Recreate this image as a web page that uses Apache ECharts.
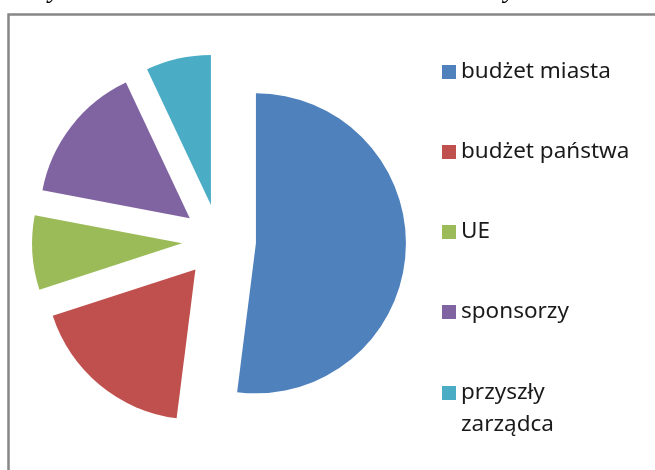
<!DOCTYPE html>
<html>
<head>
<meta charset="utf-8">
<script src="https://cdn.jsdelivr.net/npm/echarts@6/dist/echarts.min.js"></script>
<style>
  html, body { margin: 0; padding: 0; background: #fff; }
  #chart { width: 655px; height: 470px; }
</style>
</head>
<body>
<div id="chart"></div>
<script>
// źródła finansowania (udział w %)
const categories = ['budżet miasta', 'budżet państwa', 'UE', 'sponsorzy', 'przyszły zarządca']
const shares = [52, 18, 8, 15, 7]
const colors = ['#4F81BD', '#C0504D', '#9BBB59', '#8064A2', '#4BACC6']
const captionText = 'Wykres 1. Udział źródeł w kosztach budowy stadionu'

const chart = echarts.init(document.getElementById('chart'))

const pieData = categories.map((name, i) => ({
  name,
  value: shares[i],
  selected: true,
  itemStyle: { color: colors[i] }
}))

const legendBase = {
  orient: 'vertical',
  left: 442,
  padding: 0,
  icon: 'rect',
  itemWidth: 14,
  itemHeight: 14,
  itemGap: 48,
  selectedMode: false,
  textStyle: {
    fontFamily: 'Noto Sans',
    fontSize: 22.5,
    lineHeight: 32,
    color: '#1a1a1a'
  }
}

chart.setOption({
  backgroundColor: '#fff',
  animation: false,
  graphic: [
    {
      type: 'text',
      left: 28,
      top: -24,
      style: {
        text: captionText,
        font: 'italic 28px "Liberation Serif"',
        fill: '#000'
      },
      silent: true
    },
    {
      type: 'rect',
      shape: { x: 8.5, y: 14.5, width: 800, height: 600 },
      style: { fill: 'none', stroke: '#878787', lineWidth: 2.5 },
      silent: true
    }
  ],
  legend: [
    Object.assign({}, legendBase, {
      top: 56,
      height: 400,
      data: categories.slice(0, 4)
    }),
    // ostatnia pozycja w dwóch liniach; pusta linia na górze, żeby
    // pierwsza linia tekstu była na wysokości ikonki
    Object.assign({}, legendBase, {
      top: 345,
      data: categories.slice(4),
      formatter: (name) => '\u00a0\n' + name.replace('przyszły ', 'przyszły\n')
    })
  ],
  series: [
    {
      type: 'pie',
      center: [219, 241],
      radius: 150,
      startAngle: 90,
      clockwise: true,
      selectedMode: 'multiple',
      selectedOffset: 37,
      label: { show: false },
      labelLine: { show: false },
      itemStyle: { borderWidth: 0 },
      emphasis: { disabled: true },
      data: pieData
    }
  ]
})
</script>
</body>
</html>
